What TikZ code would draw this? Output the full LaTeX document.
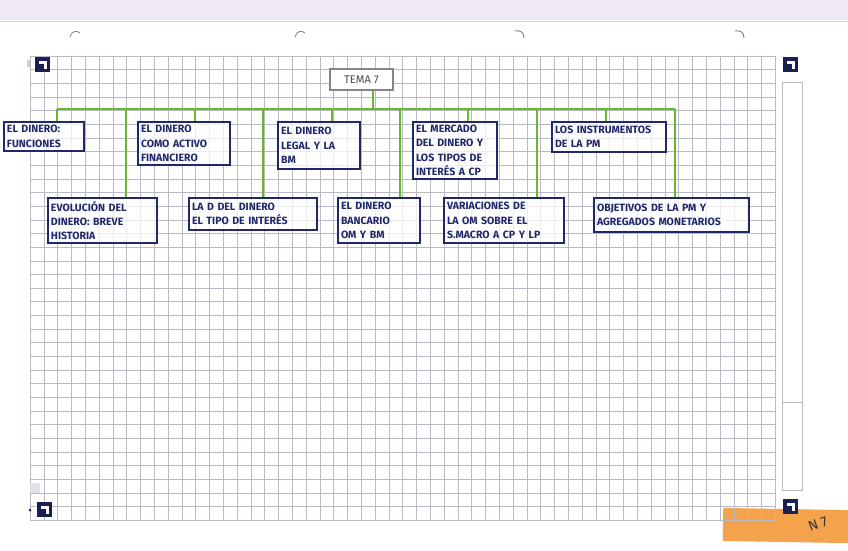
\documentclass[tikz,border=0pt]{standalone}
\usepackage{fontspec}
\setmainfont{Fira Sans}
\usetikzlibrary{positioning, calc}

\definecolor{ink}{HTML}{1F2868}
\definecolor{marker}{HTML}{66B82C}
\definecolor{gridline}{HTML}{B9BAC4}
\definecolor{paperband}{HTML}{EFE9F4}
\definecolor{note}{HTML}{F5A24C}
\definecolor{pencil}{HTML}{85858C}

\begin{document}
\begin{tikzpicture}[
    x=0.03cm, y=-0.03cm,
    topic/.style={
        draw=ink, line width=1.7pt, fill=white, fill opacity=0.75,
        text opacity=1, text=ink, align=left, inner sep=2.5pt,
        font=\fontsize{9}{12.3}\selectfont\bfseries
    },
    title/.style={
        draw=pencil, line width=1.5pt, fill=white, text=black!70,
        font=\fontsize{9.5}{11}\selectfont,
        minimum width=1.89cm, minimum height=0.63cm
    },
    link/.style={draw=marker, line width=1.6pt},
    sheet/.style={draw=gridline, line width=0.4pt},
    regmark/.style={fill=ink!80!black},
]

% Paper
\useasboundingbox (0,0) rectangle (848,550);
\fill[white] (0,0) rectangle (848,550);
\fill[paperband] (0,0) rectangle (848,20);
\draw[gridline!60] (0,21) -- (848,21);

% Punch marks
\foreach \px in {75,300}
    \draw[pencil, line width=0.7pt] (\px-5,37) .. controls (\px-4,31) and (\px+2,30) .. (\px+5,33);
\foreach \px in {520,740}
    \draw[pencil, line width=0.8pt] (\px-5,31) .. controls (\px,30) and (\px+4,32) .. (\px+4,38);

% Sticky note
\fill[note, rotate around={-1:(785,525)}] (723,509) rectangle (850,542);
\node[rotate=20, text=black!80, font=\fontsize{12}{12}\selectfont] (page) at (818,524) {N 7};

% Grid
\foreach \i in {0,...,54}
    \draw[sheet] ({30+\i*13.8},56) -- ({30+\i*13.8},520);
\foreach \j in {0,...,34}
    \draw[sheet] (30,{56+\j*13.65}) -- (775,{56+\j*13.65});

% Margin strip and corner marks
\draw[gridline] (782,82) rectangle (802,490);
\draw[gridline] (782,402) -- (802,402);
\fill[gridline!70] (27,60) rectangle (30,67);
\fill[paperband!80!gridline] (30,483) rectangle (40,493);
\fill[ink] (30,510) circle (1.5);
\foreach \mx/\my in {35/57, 783/57, 37/502, 783/499}{
    \fill[regmark] (\mx,\my) rectangle ++(15,15);
    \fill[white] (\mx+4,\my+4) rectangle ++(8,3);
    \fill[white] (\mx+9,\my+4) rectangle ++(3,8);
}

% Nodes
\node[title] (tema) at (361.5,79.5) {TEMA 7};

\node[topic, text width=2.22cm, minimum height=0.87cm] (fun) at (44,136.5) {EL DINERO:\\FUNCIONES};
\node[topic, text width=2.58cm, minimum height=1.29cm] (activo) at (184,143.5) {EL DINERO\\COMO ACTIVO\\FINANCIERO};
\node[topic, text width=2.28cm, minimum height=1.41cm] (legal) at (319,145.5) {EL DINERO\\LEGAL Y LA\\BM};
\node[topic, text width=2.34cm, minimum height=1.71cm] (mercado) at (455,150.5) {EL MERCADO\\DEL DINERO Y\\LOS TIPOS DE\\INTERÉS A CP};
\node[topic, text width=3.24cm, minimum height=0.9cm] (instr) at (609,137) {LOS INSTRUMENTOS\\DE LA PM};

\node[topic, text width=3.09cm, minimum height=1.35cm] (evol) at (102.5,220.5) {EVOLUCIÓN DEL\\DINERO: BREVE\\HISTORIA};
\node[topic, text width=3.66cm, minimum height=0.96cm] (lad) at (253,214) {LA D DEL DINERO\\EL TIPO DE INTERÉS};
\node[topic, text width=2.28cm, minimum height=1.35cm] (banc) at (379,220.5) {EL DINERO\\BANCARIO\\OM Y BM};
\node[topic, text width=3.42cm, minimum height=1.35cm] (variac) at (504,220.5) {VARIACIONES DE\\LA OM SOBRE EL\\S.MACRO A CP Y LP};
\node[topic, text width=4.47cm, minimum height=1.02cm] (objet) at (671.5,215) {OBJETIVOS DE LA PM Y\\AGREGADOS MONETARIOS};

% Connectors
\coordinate (busL) at (57,109);
\coordinate (busR) at (675,109);
\draw[link] (busL) -- (busR);

\path ($(tema.south)+(11.5,0)$) coordinate (stem);
\draw[link] (stem) -- (stem |- busL);

\foreach \n/\dx in {fun/13, activo/11, legal/13, mercado/13, instr/-3,
                    evol/23.5, lad/10, banc/21, variac/33, objet/3.5}{
    \path ($(\n.north)+(\dx,0)$) coordinate (drop);
    \draw[link] (drop) -- (drop |- busL);
}

\end{tikzpicture}
\end{document}
